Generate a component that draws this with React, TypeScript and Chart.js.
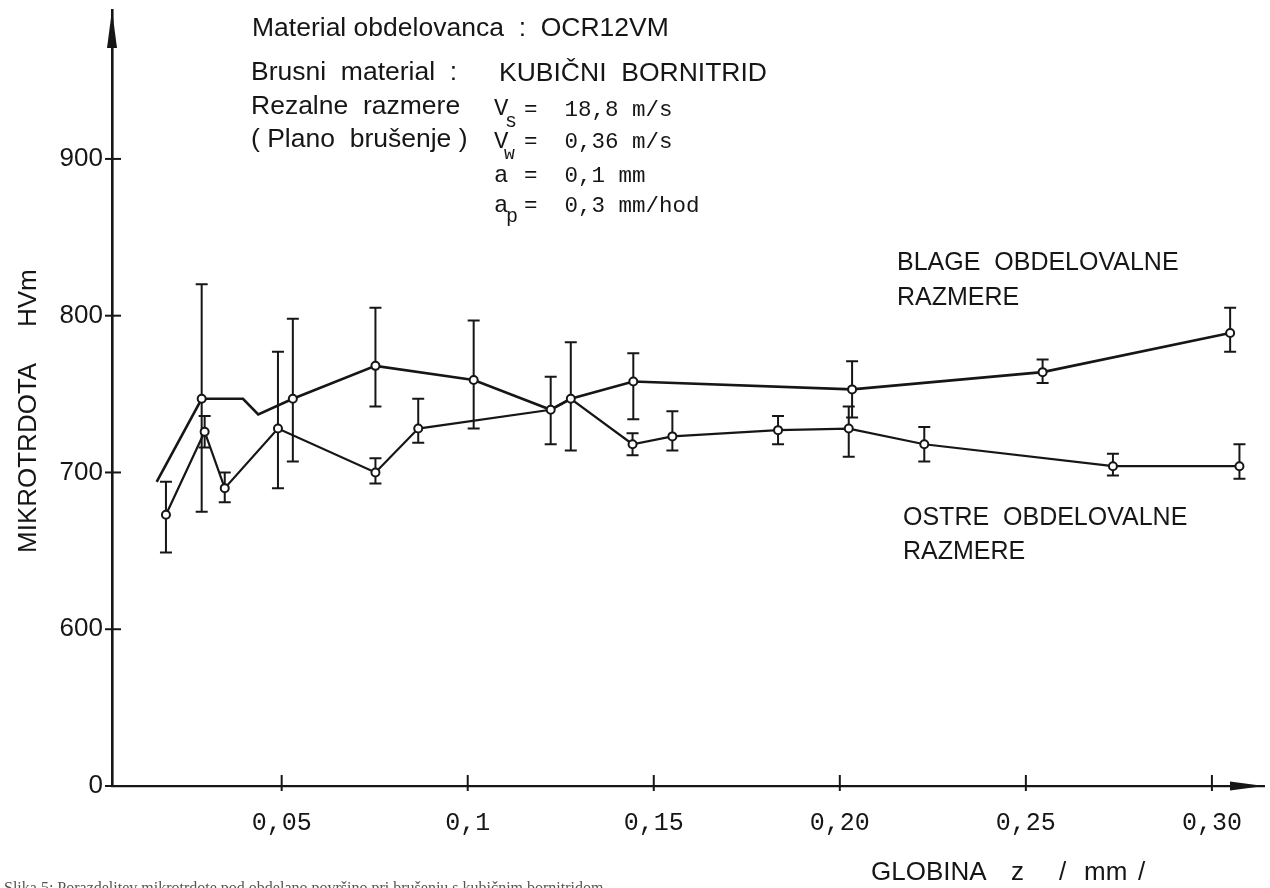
import React, { useEffect, useRef } from "react";
import { Chart, registerables } from "chart.js";

Chart.register(...registerables);

// ---- data ----
const blageDepth = [0.0164, 0.0285, 0.0396, 0.0437, 0.053, 0.0752, 0.1016, 0.1223, 0.1277, 0.1445, 0.2033, 0.2545, 0.3049];
const blageHV = [694, 747, 747, 737, 747, 768, 759, 740, 747, 758, 753, 764, 789];
const blageLow = [null, 675, null, null, 707, 742, 728, 718, 714, 734, 735, 757, 777];
const blageHigh = [null, 820, null, null, 798, 805, 797, 761, 783, 776, 771, 772, 805];

const ostreDepth = [0.0189, 0.0293, 0.0347, 0.049, 0.0752, 0.0867, 0.1223, 0.1277, 0.1443, 0.155, 0.1834, 0.2024, 0.2227, 0.2734, 0.3074];
const ostreHV = [673, 726, 690, 728, 700, 728, 740, 747, 718, 723, 727, 728, 718, 704, 704];
const ostreLow = [649, 716, 681, 690, 693, 719, null, null, 711, 714, 718, 710, 707, 698, 696];
const ostreHigh = [694, 736, 700, 777, 709, 747, null, null, 725, 739, 736, 742, 729, 712, 718];

const xTickValues = [0.05, 0.1, 0.15, 0.2, 0.25, 0.3];
const xTickLabels = ["0,05", "0,1", "0,15", "0,20", "0,25", "0,30"];
const yTickValues = [500, 600, 700, 800, 900];
const yTickLabels = ["0", "600", "700", "800", "900"];

const INK = "#161616";
const SANS = '"Liberation Sans", Arial, Helvetica, sans-serif';
const MONO = '"Liberation Mono", "DejaVu Sans Mono", monospace';

const errorBarPlugin = {
  id: "errorBars",
  beforeDatasetsDraw(chart: any) {
    const { ctx } = chart;
    const xs = chart.scales.x;
    const ys = chart.scales.y;
    ctx.save();
    ctx.strokeStyle = INK;
    ctx.lineWidth = 2;
    chart.data.datasets.forEach((ds: any) => {
      ds.data.forEach((p: any, i: number) => {
        const lo = ds.errLow[i];
        const hi = ds.errHigh[i];
        if (lo == null || hi == null) return;
        const px = xs.getPixelForValue(p.x);
        const yl = ys.getPixelForValue(lo);
        const yh = ys.getPixelForValue(hi);
        ctx.beginPath();
        ctx.moveTo(px, yl);
        ctx.lineTo(px, yh);
        ctx.moveTo(px - 6, yl);
        ctx.lineTo(px + 6, yl);
        ctx.moveTo(px - 6, yh);
        ctx.lineTo(px + 6, yh);
        ctx.stroke();
      });
    });
    ctx.restore();
  },
};

const decorPlugin = {
  id: "decor",
  afterDraw(chart: any) {
    const { ctx, chartArea } = chart;
    const xs = chart.scales.x;
    const ys = chart.scales.y;
    const { left, right, top, bottom } = chartArea;
    ctx.save();
    ctx.strokeStyle = INK;
    ctx.fillStyle = INK;
    ctx.lineWidth = 2;
    // y ticks crossing the axis
    yTickValues.forEach((v) => {
      const py = ys.getPixelForValue(v);
      ctx.beginPath();
      ctx.moveTo(left - 7, py);
      ctx.lineTo(left + 9, py);
      ctx.stroke();
    });
    // x ticks crossing the axis
    xTickValues.forEach((v) => {
      const px = xs.getPixelForValue(v);
      ctx.beginPath();
      ctx.moveTo(px, bottom - 11);
      ctx.lineTo(px, bottom + 5);
      ctx.stroke();
    });
    // arrows
    ctx.beginPath();
    ctx.moveTo(left, top);
    ctx.lineTo(left - 5, top + 38);
    ctx.lineTo(left + 5, top + 38);
    ctx.closePath();
    ctx.fill();
    ctx.beginPath();
    ctx.moveTo(right, bottom);
    ctx.lineTo(right - 34, bottom - 4.5);
    ctx.lineTo(right - 34, bottom + 4.5);
    ctx.closePath();
    ctx.fill();

    // texts
    ctx.textAlign = "left";
    ctx.textBaseline = "alphabetic";
    ctx.font = `26.5px ${SANS}`;
    ctx.fillText("Material obdelovanca  :  OCR12VM", 252, 36);
    ctx.fillText("Brusni  material  :", 251, 80);
    ctx.fillText("KUBIČNI  BORNITRID", 499, 81);
    ctx.fillText("Rezalne  razmere", 251, 114);
    ctx.fillText("( Plano  brušenje )", 251, 147);

    const mono = (s: string, x: number, y: number, size: number) => {
      ctx.font = `${size}px ${MONO}`;
      ctx.fillText(s, x, y);
    };
    mono("V", 494, 115, 24);
    mono("s", 505, 127, 20);
    mono("=  18,8 m/s", 524, 116, 22.5);
    mono("V", 494, 148, 24);
    mono("w", 504, 159, 18);
    mono("=  0,36 m/s", 524, 148, 22.5);
    mono("a", 494, 182, 24);
    mono("=  0,1 mm", 524, 182, 22.5);
    mono("a", 494, 212, 24);
    mono("p", 506, 222, 20);
    mono("=  0,3 mm/hod", 524, 212, 22.5);

    ctx.font = `25px ${SANS}`;
    ctx.fillText("BLAGE  OBDELOVALNE", 897, 270);
    ctx.fillText("RAZMERE", 897, 305);
    ctx.fillText("OSTRE  OBDELOVALNE", 903, 525);
    ctx.fillText("RAZMERE", 903, 559);

    // axis titles
    ctx.font = `26px ${SANS}`;
    ctx.fillText("GLOBINA", 871, 880);
    ctx.fillText("z", 1011, 880);
    ctx.fillText("/", 1059, 880);
    ctx.fillText("mm", 1084, 880);
    ctx.fillText("/", 1138, 880);

    ctx.save();
    ctx.translate(36, 553);
    ctx.rotate(-Math.PI / 2);
    ctx.fillText("MIKROTRDOTA", 0, 0);
    ctx.fillText("HVm", 226, 0);
    ctx.restore();

    // caption (cut off at the bottom edge)
    ctx.fillStyle = "#555";
    ctx.font = `16px "Liberation Serif", serif`;
    ctx.fillText("Slika 5: Porazdelitev mikrotrdote pod obdelano površino pri brušenju s kubičnim bornitridom", 4, 893);
    ctx.restore();
  },
};

export default function App() {
  const canvasRef = useRef<HTMLCanvasElement | null>(null);

  useEffect(() => {
    if (!canvasRef.current) return;
    const mkPoints = (xs: number[], ys: number[]) => xs.map((x, i) => ({ x, y: ys[i] }));
    const radiusFor = (lows: (number | null)[]) => (c: any) => (lows[c.dataIndex] == null ? 0 : 4);

    const chart = new Chart(canvasRef.current, {
      type: "line",
      data: {
        datasets: [
          {
            label: "BLAGE OBDELOVALNE RAZMERE",
            data: mkPoints(blageDepth, blageHV),
            errLow: blageLow,
            errHigh: blageHigh,
            borderColor: INK,
            borderWidth: 2.6,
            pointRadius: radiusFor(blageLow),
            pointBorderWidth: 2,
            pointBackgroundColor: "#fff",
            pointBorderColor: INK,
            tension: 0,
          } as any,
          {
            label: "OSTRE OBDELOVALNE RAZMERE",
            data: mkPoints(ostreDepth, ostreHV),
            errLow: ostreLow,
            errHigh: ostreHigh,
            borderColor: INK,
            borderWidth: 2.2,
            pointRadius: radiusFor(ostreLow),
            pointBorderWidth: 2,
            pointBackgroundColor: "#fff",
            pointBorderColor: INK,
            tension: 0,
          } as any,
        ],
      },
      options: {
        animation: false,
        responsive: false,
        maintainAspectRatio: false,
        layout: { padding: { left: 0, right: 4, top: 10, bottom: 0 } },
        plugins: { legend: { display: false }, tooltip: { enabled: false } },
        scales: {
          x: {
            type: "linear",
            min: 0.0044,
            max: 0.314,
            grid: { display: false, drawTicks: false },
            border: { display: true, color: INK, width: 2.2 },
            afterBuildTicks: (s: any) => {
              s.ticks = xTickValues.map((v) => ({ value: v }));
            },
            afterFit: (s: any) => {
              s.height = 102;
              s.paddingLeft = 0;
              s.paddingRight = 0;
              s.paddingTop = 0;
              s.paddingBottom = 0;
            },
            ticks: {
              autoSkip: false,
              maxRotation: 0,
              padding: 22,
              color: INK,
              font: { family: MONO, size: 25 },
              callback: (_v: any, i: number) => xTickLabels[i],
            },
          },
          y: {
            type: "linear",
            min: 500,
            max: 995,
            grid: { display: false, drawTicks: false },
            border: { display: true, color: INK, width: 2.6 },
            afterBuildTicks: (s: any) => {
              s.ticks = yTickValues.map((v) => ({ value: v }));
            },
            afterFit: (s: any) => {
              s.width = 112;
              s.paddingLeft = 0;
              s.paddingRight = 0;
              s.paddingTop = 0;
              s.paddingBottom = 0;
            },
            ticks: {
              autoSkip: false,
              padding: 9,
              color: INK,
              font: { family: SANS, size: 26 },
              callback: (_v: any, i: number) => yTickLabels[i],
            },
          },
        },
      } as any,
      plugins: [errorBarPlugin, decorPlugin],
    });
    return () => chart.destroy();
  }, []);

  return (
    <div style={{ position: "absolute", left: 0, top: 0, width: 1270, height: 888, background: "#fff" }}>
      <canvas ref={canvasRef} width={1270} height={888} style={{ display: "block", width: 1270, height: 888 }} />
    </div>
  );
}
